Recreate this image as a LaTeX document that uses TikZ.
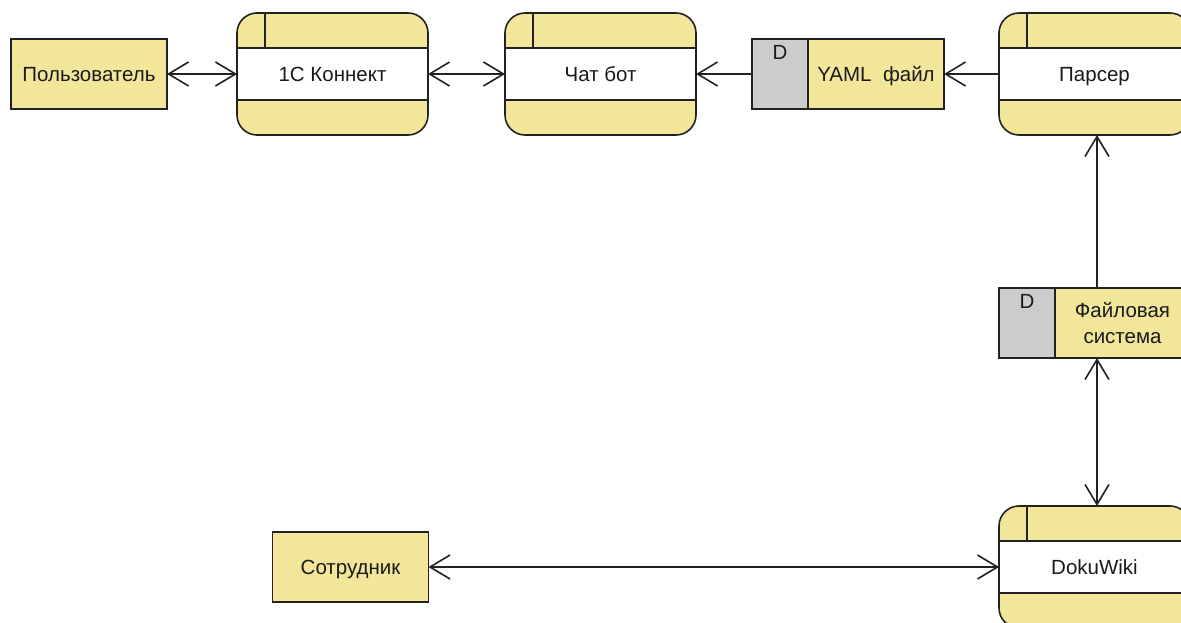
\documentclass[tikz,border=0pt]{standalone}
\usepackage{fontspec}
\setmainfont{Liberation Sans}
\usetikzlibrary{arrows.meta,calc}
\definecolor{dfdyellow}{HTML}{F2E69A}
\definecolor{dfdgray}{HTML}{CCCCCC}
\definecolor{dfdline}{HTML}{222222}
\definecolor{dfdtext}{HTML}{1A1A1A}
\tikzset{
  boxline/.style={draw=dfdline, line width=1.6pt},
  boxtext/.style={text=dfdtext, font=\fontsize{20.5}{26.5}\selectfont, inner sep=0pt, align=center},
  oneline/.style={text height=14.7pt, text depth=0pt},
  extentity/.style={boxline, fill=dfdyellow, minimum width=156pt, minimum height=70pt,
    inner sep=0pt, outer sep=0pt, text=dfdtext, font=\fontsize{20.5}{26.5}\selectfont},
  procshape/.style={rectangle, rounded corners=20pt, fill=dfdyellow, draw=none,
    minimum width=191pt, minimum height=122pt, inner sep=0pt, outer sep=0pt},
  storeshape/.style={rectangle, fill=dfdyellow, draw=none, inner sep=0pt, outer sep=0pt},
  barb/.tip={Straight Barb[length=20pt, width=24pt]},
  flow/.style={boxline, -barb},
  flowboth/.style={boxline, barb-barb},
}
\newcommand{\procbox}[4]{%
  \node[procshape, anchor=north west] (#1) at (#2,#3) {};
  \fill[white] ($(#1.north west)+(0pt,-35pt)$) rectangle ($(#1.north east)+(0pt,-87pt)$);
  \draw[boxline] ($(#1.north west)+(0pt,-35pt)$) -- ($(#1.north east)+(0pt,-35pt)$);
  \draw[boxline] ($(#1.north west)+(0pt,-87pt)$) -- ($(#1.north east)+(0pt,-87pt)$);
  \draw[boxline] ($(#1.north west)+(28pt,0pt)$) -- ($(#1.north west)+(28pt,-35pt)$);
  \draw[boxline, rounded corners=20pt] (#1.north west) rectangle (#1.south east);
  \node[boxtext, oneline] (#1-t) at (#1.center) {#4};
}
\newcommand{\dstore}[7]{%
  \node[storeshape, anchor=north west, minimum width=#4pt, minimum height=#5pt] (#1) at (#2,#3) {};
  \fill[dfdgray] (#1.north west) rectangle ($(#1.south west)+(56pt,0pt)$);
  \draw[boxline] ($(#1.north west)+(56pt,0pt)$) -- ($(#1.south west)+(56pt,0pt)$);
  \draw[boxline] (#1.north west) rectangle (#1.south east);
  \node[boxtext, oneline] (#1-d) at ($(#1.north west)+(28pt,-13.5pt)$) {D};
  \node[boxtext, #7] (#1-t) at ($(#1.center)+(28pt,0pt)$) {#6};
}
\begin{document}
\begin{tikzpicture}[x=1pt,y=-1pt]
\useasboundingbox (0,0) rectangle (1181,623);
\clip (0,0) rectangle (1181,623);

\node[extentity, oneline] (user) at (89,74) {Пользователь};
\procbox{conn}{237}{13}{1С Коннект}
\procbox{bot}{505}{13}{Чат бот}
\dstore{yaml}{752}{39}{192}{70}{YAML\ \ файл}{oneline}
\procbox{pars}{999}{13}{Парсер}
\dstore{fs}{999}{288}{191}{70}{Файловая\\система}{}
\procbox{wiki}{999}{506}{DokuWiki}
\node[extentity, oneline] (emp) at (350.5,567) {Сотрудник};

\draw[flowboth] (user) -- (conn);
\draw[flowboth] (conn) -- (bot);
\draw[flow] (yaml) -- (bot);
\draw[flow] (pars) -- (yaml);
\draw[flow] ($(fs.north)+(2.5pt,0pt)$) -- ($(pars.south)+(2.5pt,0pt)$);
\draw[flowboth] ($(fs.south)+(2.5pt,0pt)$) -- ($(wiki.north)+(2.5pt,0pt)$);
\draw[flowboth] (emp) -- (wiki);
\end{tikzpicture}
\end{document}
